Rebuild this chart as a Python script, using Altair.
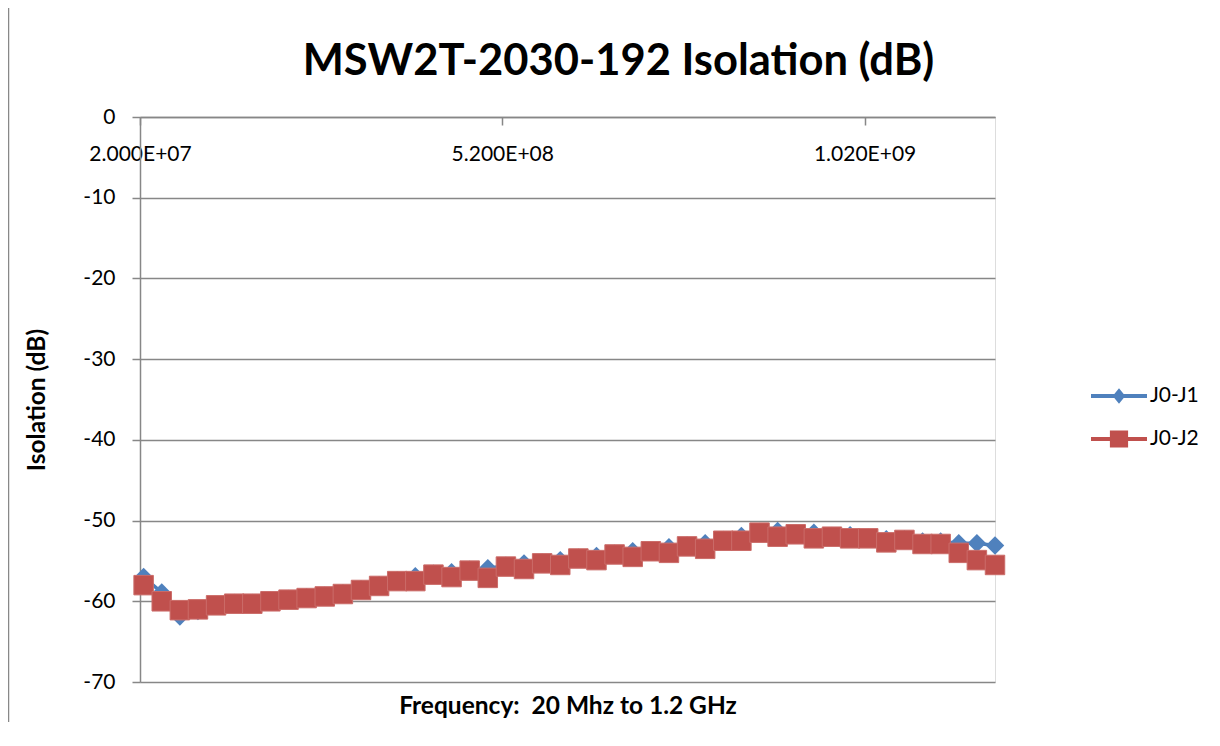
import altair as alt
import pandas as pd

# ---- data ----
freq_mhz = [25, 50, 75, 100, 125, 150, 175, 200, 225, 250, 275, 300,
            325, 350, 375, 400, 425, 450, 475, 500, 525, 550, 575, 600,
            625, 650, 675, 700, 725, 750, 775, 800, 825, 850, 875, 900,
            925, 950, 975, 1000, 1025, 1050, 1075, 1100, 1125, 1150, 1175, 1200]

j0_j1 = [-57.0, -58.9, -61.9, -61.2, -60.5, -60.2, -60.2, -59.9, -59.7, -59.5, -59.3, -59.0,
         -58.5, -58.0, -57.4, -56.9, -56.6, -56.4, -56.1, -55.9, -55.6, -55.3, -55.2, -54.9,
         -54.6, -54.4, -54.1, -53.8, -53.7, -53.3, -53.1, -52.8, -52.4, -51.9, -51.4, -51.3,
         -51.6, -51.5, -51.9, -51.8, -52.1, -52.3, -52.3, -52.6, -52.6, -52.8, -52.8, -53.1]

j0_j2 = [-58.0, -60.0, -61.1, -61.0, -60.5, -60.3, -60.3, -60.0, -59.8, -59.6, -59.4, -59.1,
         -58.6, -58.1, -57.5, -57.5, -56.7, -57.0, -56.2, -57.1, -55.7, -56.0, -55.3, -55.5,
         -54.7, -54.9, -54.2, -54.5, -53.8, -54.0, -53.2, -53.5, -52.5, -52.5, -51.5, -52.0,
         -51.7, -52.2, -52.0, -52.2, -52.2, -52.7, -52.4, -52.9, -52.9, -54.0, -54.9, -55.5]

series_names = ["J0-J1", "J0-J2"]
line_colors = ["#4A7EBB", "#BE4B48"]
marker_colors = ["#4F81BD", "#C0504D"]

x_tick_values = [20000000, 520000000, 1020000000]
x_tick_labels = ["2.000E+07", "5.200E+08", "1.020E+09"]
y_tick_values = [0, -10, -20, -30, -40, -50, -60, -70]

title_text = "MSW2T-2030-192 Isolation (dB)"
x_title = "Frequency: \u00a020 Mhz to 1.2 GHz"
y_title = "Isolation (dB)"

# ---- table ----
freq_hz = [f * 1000000 for f in freq_mhz]
df = pd.DataFrame({
    "freq": freq_hz + freq_hz,
    "iso": j0_j1 + j0_j2,
    "series": [series_names[0]] * len(freq_hz) + [series_names[1]] * len(freq_hz),
})

W, H = 855, 565
FONT = "Lato"
GRID = "#878787"

label_map = "{" + ", ".join(f"'{v}': '{l}'" for v, l in zip(x_tick_values, x_tick_labels)) + "}"

x_enc = alt.X(
    "freq:Q",
    scale=alt.Scale(domain=[20000000, 1200000000], nice=False, zero=False),
    axis=alt.Axis(
        orient="bottom", offset=-H, values=x_tick_values,
        labelExpr=f"{label_map}[datum.value]",
        labelFlush=False, labelFont=FONT, labelFontSize=21, labelColor="#000000",
        labelPadding=18, tickSize=8, tickColor=GRID, tickWidth=1.5,
        domainColor=GRID, domainWidth=1.5, grid=False,
        title=x_title, titleFont=FONT, titleFontSize=24.5, titleFontWeight="bold",
        titleColor="#000000", titleBaseline="alphabetic", titleY=596, titleX=W / 2,
        titleAlign="center",
    ),
)

y_enc = alt.Y(
    "iso:Q",
    scale=alt.Scale(domain=[-70, 0], nice=False, zero=False),
    axis=alt.Axis(
        values=y_tick_values, labelExpr="datum.value + ''",
        labelFont=FONT, labelFontSize=21, labelColor="#000000", labelPadding=17,
        tickSize=8, tickColor=GRID, tickWidth=1.5,
        domainColor=GRID, domainWidth=1.5,
        grid=True, gridColor=GRID, gridWidth=1.5,
        title=y_title, titleFont=FONT, titleFontSize=24.5, titleFontWeight="bold",
        titleColor="#000000", titleAngle=270, titleBaseline="alphabetic",
        titleAlign="center", titleX=-96, titleY=H / 2,
    ),
)

base = alt.Chart(df)

line1 = base.transform_filter(alt.datum.series == series_names[0]).mark_line(
    color=line_colors[0], strokeWidth=3.5).encode(x=x_enc, y=y_enc)
pts1 = base.transform_filter(alt.datum.series == series_names[0]).mark_point(
    shape="diamond", filled=True, size=340, color=marker_colors[0], opacity=1).encode(x=x_enc, y=y_enc)
line2 = base.transform_filter(alt.datum.series == series_names[1]).mark_line(
    color=line_colors[1], strokeWidth=3.5).encode(x=x_enc, y=y_enc)
pts2 = base.transform_filter(alt.datum.series == series_names[1]).mark_point(
    shape="square", filled=True, size=380, fill=marker_colors[1], stroke="#CB6C69",
    strokeWidth=1, opacity=1).encode(x=x_enc, y=y_enc)

# legend-only layer (no rows drawn), symbols = line + marker
diamond_path = "M-2,-0.14H2V0.14H-2Z M0,-0.55L0.45,0L0,0.55L-0.45,0Z"
square_path = "M-2,-0.14H2V0.14H-2Z M-0.65,-0.6H0.65V0.6H-0.65Z"
legend_props = dict(orient="none", legendX=965, legendY=265, padding=0,
                    symbolSize=784, labelFont=FONT, labelFontSize=21, labelColor="#000000",
                    labelOffset=17, rowPadding=19, symbolStrokeWidth=0)
legend_layer = base.transform_filter("false").mark_point(filled=True, opacity=1).encode(
    x=x_enc, y=y_enc,
    color=alt.Color("series:N", title=None,
                    scale=alt.Scale(domain=series_names, range=marker_colors),
                    legend=alt.Legend(**legend_props)),
    shape=alt.Shape("series:N", title=None,
                    scale=alt.Scale(domain=series_names, range=[diamond_path, square_path]),
                    legend=alt.Legend(**legend_props)),
)

border = alt.Chart(pd.DataFrame({"a": [0]})).mark_rule(color="#888888", strokeWidth=1.5).encode(
    x=alt.value(-131.5), y=alt.value(-109), y2=alt.value(H + 60))

chart = alt.layer(border, legend_layer, line1, pts1, line2, pts2).properties(
    width=W, height=H,
    title=alt.Title(title_text, font=FONT, fontSize=43.5, fontWeight="bold", color="#000000",
                    anchor="middle", dx=51, dy=111, offset=0, baseline="alphabetic"),
    autosize=alt.AutoSizeParams(type="none"),
    padding={"left": 132, "top": 109, "right": 217, "bottom": 40},
).configure_view(stroke=None).configure(background="white")

chart.save("out.html", embed_options={"renderer": "svg", "actions": False})
